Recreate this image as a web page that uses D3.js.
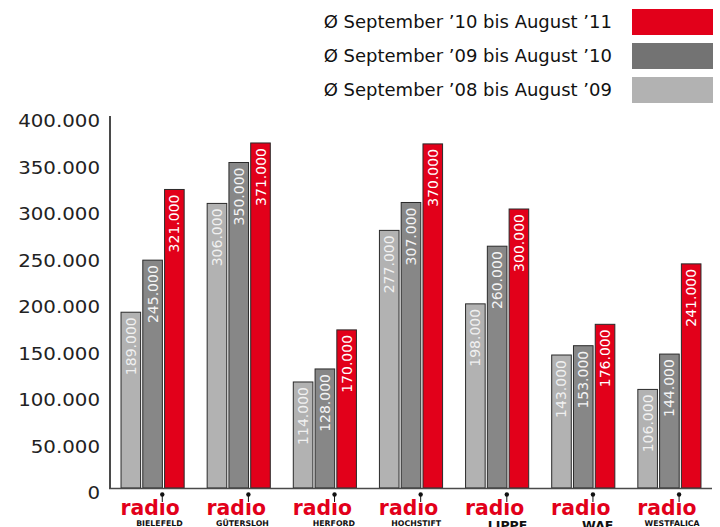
<!doctype html>
<meta charset="utf-8">
<title>Radio Reichweiten</title>
<script src="https://cdn.jsdelivr.net/npm/d3@7/dist/d3.min.js"></script>
<style>
  body { margin: 0; background: #fff; }
  text { font-family: "DejaVu Sans", sans-serif; }
</style>
<div id="chart"></div>
<script>
  // Sender und Werte (Durchschnitt Hörer pro Stunde)
  const stations = ['BIELEFELD', 'GÜTERSLOH', 'HERFORD', 'HOCHSTIFT', 'LIPPE', 'WAF', 'WESTFALICA']
  const series = ['Ø September ’08 bis August ’09', 'Ø September ’09 bis August ’10', 'Ø September ’10 bis August ’11']
  const values0809 = [189000, 306000, 114000, 277000, 198000, 143000, 106000]
  const values0910 = [245000, 350000, 128000, 307000, 260000, 153000, 144000]
  const values1011 = [321000, 371000, 170000, 370000, 300000, 176000, 241000]
  const yTicks = [0, 50000, 100000, 150000, 200000, 250000, 300000, 350000, 400000]
  const bigLabels = ['LIPPE', 'WAF']

  const colors = ['#b2b2b2', '#878787', '#e2001a']
  const legendColors = ['#b2b2b2', '#737373', '#e2001a']
  const labelColors = ['#f0f0f0', '#f4f4f4', '#ffffff']
  const allValues = [values0809, values0910, values1011]

  const W = 720, H = 527
  const svg = d3.select('#chart').append('svg')
    .attr('width', W).attr('height', H)

  const x0 = d3.scaleBand().domain(stations).range([110, 712])
    .paddingInner(0.267).paddingOuter(0.128)
  const x1 = d3.scaleBand().domain(d3.range(3)).range([0, x0.bandwidth()])
    .paddingInner(0.1)
  const y = d3.scaleLinear().domain([0, 400000]).range([488, 116])

  const fmt = v => d3.format(',')(v).replace(/,/g, '.')

  // Y-Achse Beschriftung
  svg.append('g').selectAll('text')
    .data(yTicks).enter().append('text')
    .attr('transform', d => `translate(100,${y(d) + 11}) scale(1.1,1)`)
    .attr('text-anchor', 'end')
    .attr('font-size', 18)
    .attr('fill', '#222')
    .text(fmt)

  // Balken
  const groups = svg.append('g').selectAll('g')
    .data(stations).enter().append('g')
    .attr('transform', d => `translate(${x0(d)},0)`)

  groups.each(function (st, si) {
    const g = d3.select(this)
    const rows = allValues.map((arr, k) => ({ k, v: arr[si] }))
    g.selectAll('rect').data(rows).enter().append('rect')
      .attr('x', d => x1(d.k))
      .attr('y', d => y(d.v))
      .attr('width', x1.bandwidth())
      .attr('height', d => y(0) - y(d.v))
      .attr('fill', d => colors[d.k])
      .attr('stroke', '#2a2a2a')
      .attr('stroke-width', 1)
    g.selectAll('text.val').data(rows).enter().append('text')
      .attr('class', 'val')
      .attr('transform', d => `translate(${x1(d.k) + x1.bandwidth() / 2 + 5},${y(d.v) + 5}) rotate(-90)`)
      .attr('text-anchor', 'end')
      .attr('font-size', 14)
      .attr('fill', d => labelColors[d.k])
      .text(d => fmt(d.v))
  })

  // Achsen
  svg.append('line').attr('x1', 110).attr('x2', 110).attr('y1', 116).attr('y2', 489)
    .attr('stroke', '#4a4a4a').attr('stroke-width', 2)
  svg.append('line').attr('x1', 109).attr('x2', 712).attr('y1', 488.5).attr('y2', 488.5)
    .attr('stroke', '#4a4a4a').attr('stroke-width', 1.5)

  // Logos unter der Achse
  stations.forEach(st => {
    const cx = x0(st) + x0.bandwidth() / 2 - 2.5
    const logo = svg.append('text')
      .attr('transform', `translate(${cx},515) scale(0.97,1)`)
      .attr('text-anchor', 'middle')
      .attr('font-size', 21)
      .attr('font-weight', 'bold')
      .attr('fill', '#e2001a')
      .text('radıo')
    const node = logo.node()
    const len = node.getComputedTextLength() * 0.97
    const iPos = node.getStartPositionOfChar(3).x * 0.97
    const iW = node.getSubStringLength(3, 1) * 0.97
    const dx = cx + iPos + iW / 2
    svg.append('line')
      .attr('x1', dx).attr('x2', dx).attr('y1', 495).attr('y2', 502)
      .attr('stroke', '#111').attr('stroke-width', 1)
    svg.append('circle')
      .attr('cx', dx)
      .attr('cy', 494.5)
      .attr('r', 2.2)
      .attr('fill', '#111')
    const big = bigLabels.includes(st)
    svg.append('text')
      .attr('x', cx + len / 2 + 3)
      .attr('y', big ? 529.5 : 525.5)
      .attr('text-anchor', 'end')
      .attr('font-size', big ? 12.5 : 7.8)
      .attr('font-weight', 'bold')
      .attr('fill', '#111')
      .text(st)
  })

  // Legende
  const legendOrder = [2, 1, 0]
  const legend = svg.append('g').selectAll('g')
    .data(legendOrder).enter().append('g')
    .attr('transform', (d, i) => `translate(0,${9 + i * 34})`)
  legend.append('rect')
    .attr('x', 632).attr('width', 81).attr('height', 26)
    .attr('fill', d => legendColors[d])
  legend.append('text')
    .attr('x', 612).attr('y', 19)
    .attr('text-anchor', 'end')
    .attr('font-size', 18)
    .attr('fill', '#111')
    .text(d => series[d])
</script>
